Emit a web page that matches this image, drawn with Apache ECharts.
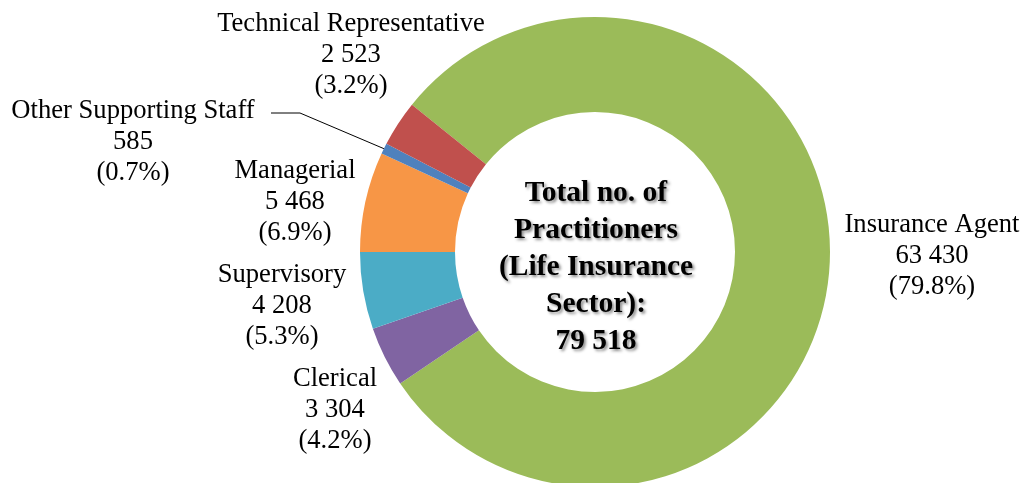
<!DOCTYPE html>
<html>
<head>
<meta charset="utf-8">
<script src="https://cdn.jsdelivr.net/npm/echarts@6/dist/echarts.min.js"></script>
<style>
html,body{margin:0;padding:0;background:#fff;}
#chart{width:1022px;height:483px;}
</style>
</head>
<body>
<div id="chart"></div>
<script>
// ---- data ----
const categories = ['Insurance Agent', 'Clerical', 'Supervisory', 'Managerial', 'Other Supporting Staff', 'Technical Representative'];
const values = [63430, 3304, 4208, 5468, 585, 2523];
const centerTitle = ['Total no. of', 'Practitioners', '(Life Insurance', 'Sector):'];

// ---- style / layout ----
const colors = ['#9BBB59', '#8064A2', '#4BACC6', '#F79646', '#4F81BD', '#C0504D'];
const labelPos = [
  [932, 256], [335, 410], [282, 306], [295, 202], [133, 142], [351, 55]
];
const leader = { index: 4, startX: 271, kinkX: 300, y: 113 };
const FONT = "'Liberation Serif', 'Times New Roman', serif";

const total = values.reduce((a, b) => a + b, 0);
const fmt = n => String(n).replace(/\B(?=(\d{3})+(?!\d))/g, ' ');

const chart = echarts.init(document.getElementById('chart'), null, { renderer: 'canvas' });
chart.setOption({
  animation: false,
  backgroundColor: '#fff',
  graphic: [{
    type: 'text',
    x: 596,
    y: 267,
    style: {
      text: centerTitle.join('\n') + '\n' + fmt(total),
      align: 'center',
      verticalAlign: 'middle',
      fontFamily: FONT,
      fontWeight: 'bold',
      fontSize: 29.5,
      lineHeight: 37,
      fill: '#000',
      textShadowColor: 'rgba(0,0,0,0.45)',
      textShadowBlur: 3,
      textShadowOffsetX: 2,
      textShadowOffsetY: 2
    },
    z: 100
  }],
  series: [{
    type: 'pie',
    center: [595, 252],
    radius: [140, 235],
    startAngle: 141.17,
    clockwise: true,
    avoidLabelOverlap: false,
    silent: true,
    itemStyle: { borderWidth: 0 },
    label: {
      show: true,
      position: 'outside',
      fontFamily: FONT,
      fontSize: 26.6,
      lineHeight: 31,
      color: '#000',
      align: 'center',
      formatter: p => p.name + '\n' + fmt(p.value) + '\n(' + (p.value / total * 100).toFixed(1) + '%)'
    },
    labelLine: { show: false },
    labelLayout: function (params) {
      const pos = labelPos[params.dataIndex];
      const out = { x: pos[0], y: pos[1], align: 'center', verticalAlign: 'middle' };
      if (params.dataIndex === leader.index && params.labelLinePoints) {
        const p0 = params.labelLinePoints[0];
        out.labelLinePoints = [[p0[0], p0[1]], [leader.kinkX, leader.y], [leader.startX, leader.y]];
      }
      return out;
    },
    data: categories.map((c, i) => ({
      name: c,
      value: values[i],
      itemStyle: { color: colors[i] },
      labelLine: i === leader.index ? { show: true, length: 10, length2: 10, lineStyle: { color: '#000', width: 1 } } : { show: false }
    }))
  }]
});
</script>
</body>
</html>
